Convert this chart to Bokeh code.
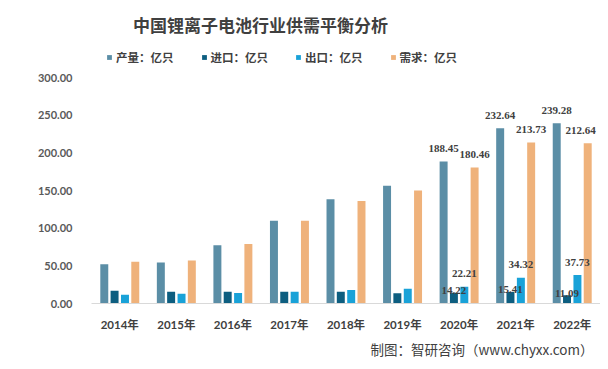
from bokeh.plotting import figure
from bokeh.models import (ColumnDataSource, FactorRange, Range1d, FixedTicker,
                          NumeralTickFormatter, Legend, LegendItem, LabelSet, Label, Title)
from bokeh.transform import dodge
from bokeh.embed import file_html
from bokeh.resources import INLINE

# ---- data ----
years = ["2014年", "2015年", "2016年", "2017年", "2018年", "2019年", "2020年", "2021年", "2022年"]
production = [52.0, 54.5, 77.5, 110.0, 138.5, 156.5, 188.45, 232.64, 239.28]
imports = [17.0, 15.5, 15.5, 15.5, 15.5, 13.5, 14.22, 15.41, 11.09]
exports = [11.5, 13.0, 14.0, 15.5, 18.0, 19.5, 22.21, 34.32, 37.73]
demand = [55.5, 57.0, 79.0, 110.0, 136.0, 150.0, 180.46, 213.73, 212.64]
series_names = ["产量：亿只", "进口：亿只", "出口：亿只", "需求：亿只"]
y_ticks = [0, 50, 100, 150, 200, 250, 300]
labeled_from = 6  # data labels shown for 2020-2022
title_text = "中国锂离子电池行业供需平衡分析"
source_text = "制图：智研咨询（www.chyxx.com）"

# ---- style ----
colors = ["#5B8EA6", "#0D5E80", "#19A2D8", "#EFB27B"]
offsets = [-0.274, -0.092, 0.092, 0.274]
label_offsets = [13, 2, 13, 13]
demand_shift = [0, 0, -7]
num_font = "Lato, 'Noto Sans CJK SC'"
cjk_font = "'Noto Sans CJK SC'"
dark = "#404040"

src = ColumnDataSource(dict(year=years, production=production, imports=imports,
                            exports=exports, demand=demand))
cols = ["production", "imports", "exports", "demand"]

p = figure(width=600, height=361, x_range=FactorRange(*years), y_range=Range1d(0, 402.3),
           output_backend="svg", toolbar_location=None,
           min_border_left=91, min_border_right=0, min_border_top=0, min_border_bottom=50)
p.title.visible = False
p.outline_line_color = None
p.xgrid.visible = False
p.ygrid.visible = False
p.background_fill_color = "white"
p.border_fill_color = "white"

renderers = []
for c, off, col in zip(cols, offsets, colors):
    r = p.vbar(x=dodge("year", off, range=p.x_range), top=c, width=0.141, source=src,
               fill_color=col, line_color=None)
    renderers.append(r)

n_lab = len(years) - labeled_from
lab_data = dict(year=years[labeled_from:])
for c, arr in zip(cols, [production, imports, exports, demand]):
    lab_data[c] = arr[labeled_from:]
    lab_data[c + "_t"] = ["%.2f" % v for v in arr[labeled_from:]]
lab_data["demand_dx"] = demand_shift
lab_data["zero_dx"] = [0] * n_lab
lab_src = ColumnDataSource(lab_data)

for c, off, yo in zip(cols, offsets, label_offsets):
    ls = LabelSet(x=dodge("year", off, range=p.x_range), y=c, text=c + "_t", source=lab_src,
                  x_offset="demand_dx" if c == "demand" else "zero_dx",
                  text_align="center", text_baseline="middle", y_offset=yo,
                  text_font=num_font, text_font_style="bold", text_font_size="11px",
                  text_color=dark)
    p.add_layout(ls)

# axes
p.yaxis.ticker = FixedTicker(ticks=y_ticks)
p.yaxis.formatter = NumeralTickFormatter(format="0.00")
p.yaxis.axis_line_color = None
p.yaxis.major_tick_line_color = None
p.yaxis.minor_tick_line_color = None
p.yaxis.major_label_standoff = 13
p.yaxis.major_label_text_font = num_font
p.yaxis.major_label_text_font_style = "bold"
p.yaxis.major_label_text_font_size = "11px"
p.yaxis.major_label_text_color = "#595959"

p.xaxis.axis_line_color = "#D9D9D9"
p.xaxis.major_tick_line_color = None
p.xaxis.minor_tick_line_color = None
p.xaxis.major_label_standoff = 8
p.xaxis.major_label_text_font = num_font
p.xaxis.major_label_text_font_style = "bold"
p.xaxis.major_label_text_font_size = "11.5px"
p.xaxis.major_label_text_color = dark

legend = Legend(items=[LegendItem(label=n, renderers=[r]) for n, r in zip(series_names, renderers)],
                orientation="horizontal", location=(15, 238), padding=0, margin=0,
                spacing=27, label_standoff=4, glyph_width=6, glyph_height=6,
                label_text_font=cjk_font, label_text_font_style="bold",
                label_text_font_size="11.5px", label_text_color=dark,
                border_line_color=None, background_fill_alpha=0)
p.add_layout(legend)

p.add_layout(Label(x=2.99, y=370, text=title_text, text_align="center", text_baseline="middle",
                   text_font=cjk_font, text_font_style="bold", text_font_size="17px",
                   text_color=dark))

src_title = Title(text=source_text, align="right", offset=7, standoff=6,
                  text_font=cjk_font, text_font_style="normal", text_font_size="13.5px",
                  text_color=dark)
p.add_layout(src_title, "below")

open("out.html", "w").write(file_html(p, INLINE))
